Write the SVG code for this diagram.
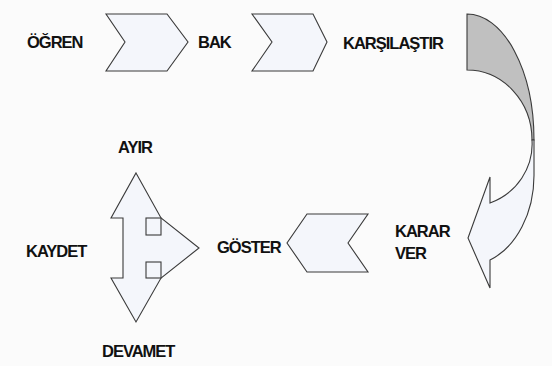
<svg xmlns="http://www.w3.org/2000/svg" width="552" height="366" viewBox="0 0 552 366">
<style>
.bg{fill:#fbfbfb}
.lbl{font-family:"Liberation Sans",Arial,sans-serif;font-weight:bold;font-size:16.5px;letter-spacing:-1px;fill:#111}
.shape{fill:#f4f6fb;stroke:#3a3a3a;stroke-width:1.1;stroke-linejoin:miter}
.back{fill:#c0c0c0;stroke:#3a3a3a;stroke-width:1.1}
</style>
<rect class="bg" x="0" y="0" width="552" height="366"/>
<g id="connectors">
  <polygon id="chevron1" class="shape" points="106,14 167,14 188,42 167,71 106,71 125,42"/>
  <polygon id="chevron2" class="shape" points="252,14 313,14 327,42 313,71 252,71 272,42"/>
  <g id="curved-arrow">
    <path class="back" d="M467,14 A67,126 0 0 1 534,140 L532,140 A65,70 0 0 0 467,70 Z"/>
    <path class="shape" d="M532,140 A65,63 0 0 1 490,203 L490,177 L468,238 L490,288 L490,260 A67,90 0 0 0 534,175 L534,140 Z"/>
  </g>
  <polygon id="chevron3" class="shape" points="307,214 368,214 348,243 368,272 307,272 287,243"/>
</g>
<g id="node-ogren"><text class="lbl" x="27" y="48">ÖĞREN</text></g>
<g id="node-bak"><text class="lbl" x="198" y="48">BAK</text></g>
<g id="node-karsilastir"><text class="lbl" x="343" y="49">KARŞILAŞTIR</text></g>
<g id="node-kararver"><text class="lbl" x="395" y="237">KARAR</text><text class="lbl" x="395" y="259">VER</text></g>
<g id="node-goster"><text class="lbl" x="217" y="253">GÖSTER</text></g>
<g id="node-cross">
  <path class="shape" d="M136,173 L161,218 L199,248 L161,278 L136,322 L111,278 L123,278 L123,218 L111,218 Z"/>
  <rect class="shape" x="146" y="218" width="15" height="17"/>
  <rect class="shape" x="146" y="262" width="15" height="16"/>
</g>
<g id="node-ayir"><text class="lbl" x="118" y="153">AYIR</text></g>
<g id="node-kaydet"><text class="lbl" x="26" y="257">KAYDET</text></g>
<g id="node-devamet"><text class="lbl" x="102" y="357">DEVAMET</text></g>
</svg>
